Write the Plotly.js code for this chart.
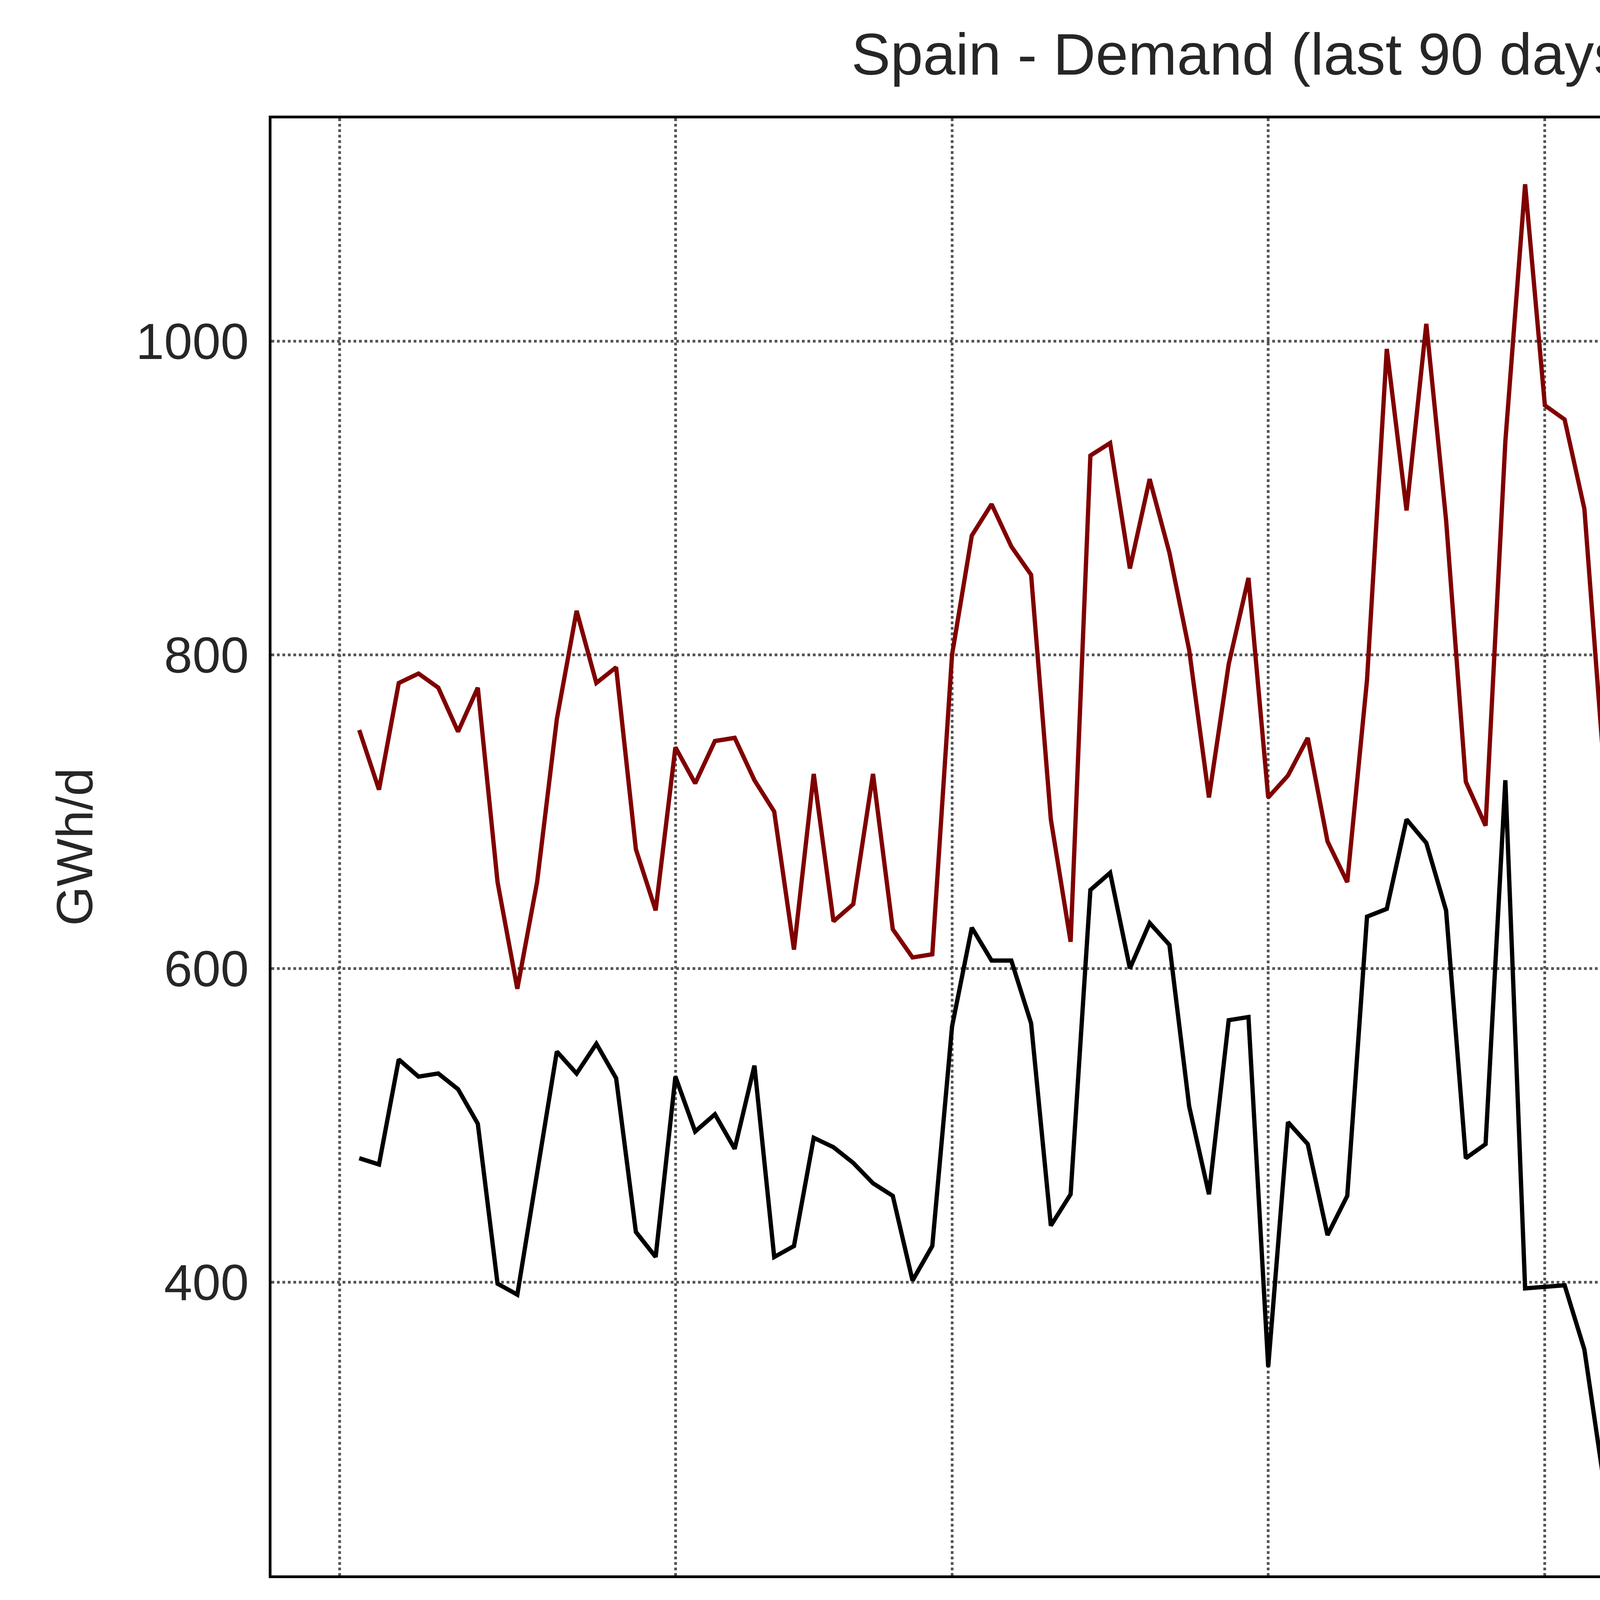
<!DOCTYPE html>
<html><head><meta charset="utf-8">
<script src="https://cdn.plot.ly/plotly-3.0.1.min.js"></script>
<style>html,body{margin:0;padding:0;background:#fff}</style>
</head><body><div id="chart" style="width:5752px;height:5721px"></div>
<script>
const startDate = "2026-05-16";
const apparentDemand = [752,714,782,788,779,751,779,655,587,655,759,828,782,792,676,637,741,718,745,747,720,700,612,724,630,641,724,625,607,609,800,876,896,869,851,695,617,927,935,855,912,865,803,709,794,849,709,723,747,681,655,784,995,892,1011,886,719,691,936,1100,959,950,893,726,658,735,818,958,985,865,648,616,662,870,900,924,817,655,792,885,896,855,764,855,690,645,674,821,819,833,845];
const tsoDemand = [479,475,542,531,533,523,501,399,392,468,547,533,552,530,432,416,531,496,507,485,538,416,423,492,486,476,463,455,401,423,563,626,605,605,565,436,456,650,661,600,629,615,512,456,567,569,346,502,488,430,455,633,638,695,680,637,479,488,720,396,397,398,357,271,262,356,380,399,391,353,288,272,336,359,359,353,339,291,276,339,327,595,327,636,268,254,308,302,305,310,284];
const tickDates = ["2026-05-15","2026-06-01","2026-06-15","2026-07-01","2026-07-15","2026-08-01","2026-08-15"];
const yTicks = [400,600,800,1000];

function dates(n){const out=[];const d0=new Date(startDate+"T00:00:00Z");for(let i=0;i<n;i++){const d=new Date(d0.getTime()+i*86400000);out.push(d.toISOString().slice(0,10));}return out;}
const x = dates(apparentDemand.length);
const F = "Liberation Sans, Arial, sans-serif";
Plotly.newPlot("chart",[
 {x:x,y:apparentDemand,mode:"lines",name:"Apparent demand calculated from import and export flows",line:{color:"#800000",width:11}},
 {x:x,y:tsoDemand,mode:"lines",name:"Demand figures published by TSO",line:{color:"#000000",width:11}}
],{
 width:5752,height:5721,paper_bgcolor:"#fff",plot_bgcolor:"#fff",
 font:{family:F,size:130,color:"#262626"},
 margin:{l:695,r:54,t:303,b:1688},
 title:{text:"Spain - Demand (last 90 days)",font:{size:150,color:"#262626"},x:0.555,xanchor:"center",y:0.985,yanchor:"top"},
 xaxis:{type:"date",range:["2026-05-11 13:25","2026-08-18 11:00"],tickvals:tickDates,ticktext:tickDates,tickangle:-90,
  showgrid:true,gridcolor:"#555",griddash:"dot",gridwidth:7,showline:true,linecolor:"#000",linewidth:7,mirror:true,ticks:"",zeroline:false,ticklabelstandoff:25},
 yaxis:{range:[213,1142],tickvals:yTicks,title:{text:"GWh/d",font:{size:130},standoff:70},
  showgrid:true,gridcolor:"#555",griddash:"dot",gridwidth:7,showline:true,linecolor:"#000",linewidth:7,mirror:true,ticks:"",zeroline:false,ticklabelstandoff:25},
 showlegend:true,
 legend:{x:0.014,y:-0.32,xanchor:"left",yanchor:"top",bordercolor:"#ccc",borderwidth:7,bgcolor:"#fff",font:{size:128,color:"#262626"},itemwidth:200,tracegroupgap:10}
},{displayModeBar:false});
</script></body></html>
